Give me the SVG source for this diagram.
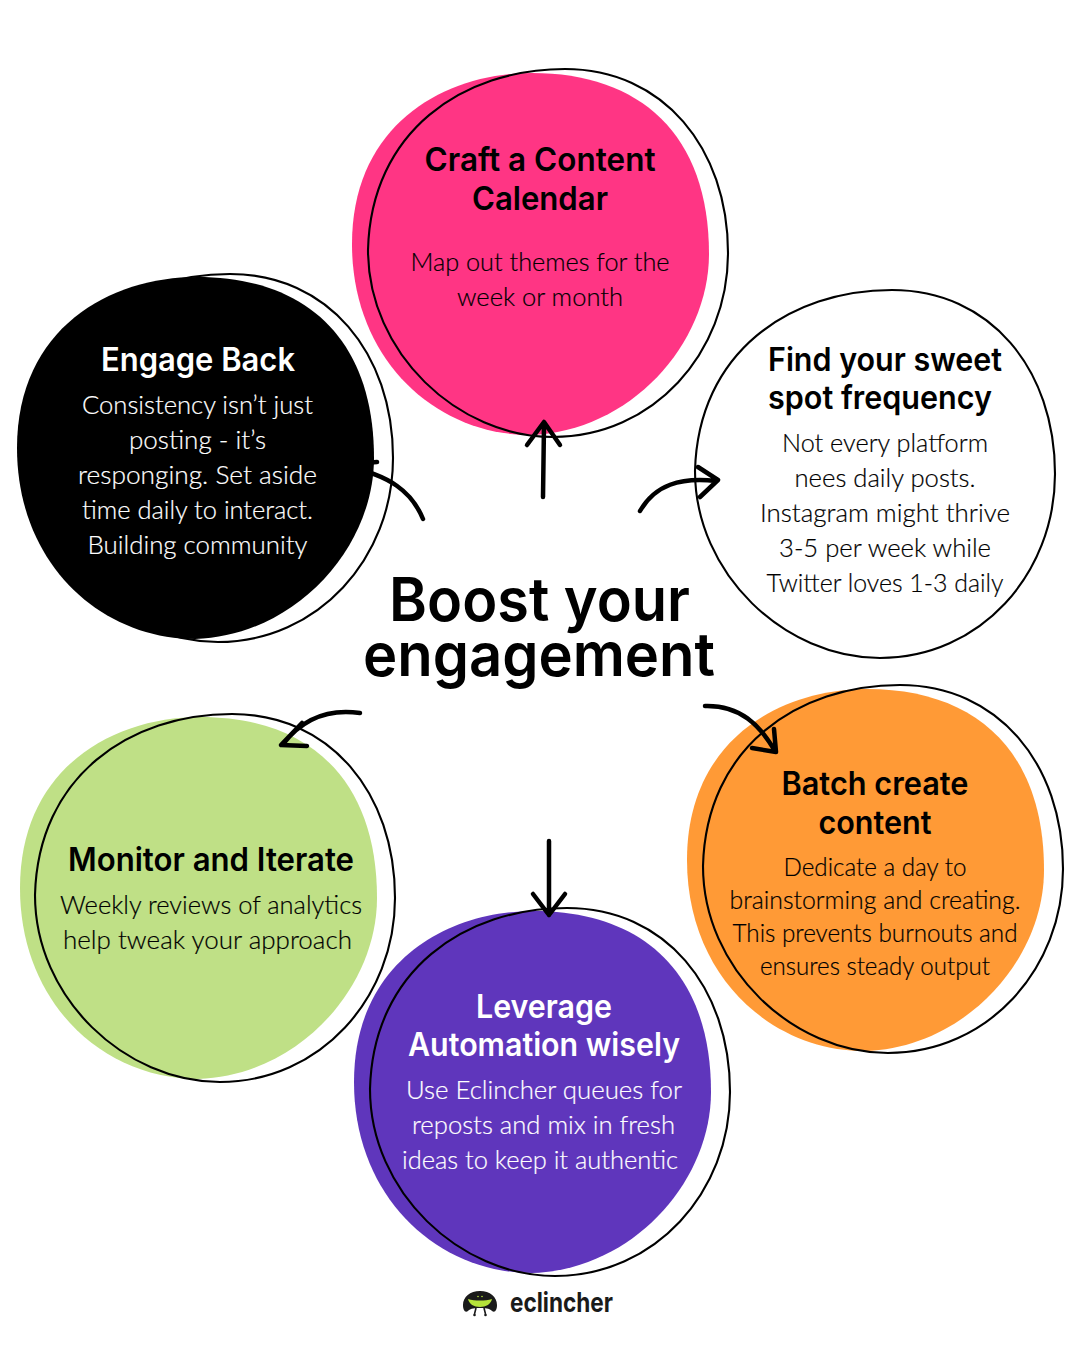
<svg xmlns="http://www.w3.org/2000/svg" width="1080" height="1350" viewBox="0 0 1080 1350">
<style>
text{text-anchor:middle;font-family:"Lato","Liberation Sans",sans-serif;fill:#000}
.h{font-size:32px;font-family:"Inter","Liberation Sans",sans-serif;font-weight:600}
.b{font-size:26px;font-weight:300;stroke:#000;stroke-width:.2}
.s{font-size:24.5px;font-weight:300;stroke:#000;stroke-width:.2}
text.w{fill:#fff;stroke:#fff}
text.h.w{stroke:none}
.o{fill:none;stroke:#000;stroke-width:2.1}
.a{fill:none;stroke:#000;stroke-width:4.5;stroke-linecap:round;stroke-linejoin:round}
.t{font-size:60px;font-weight:600;font-family:"Inter","Liberation Sans",sans-serif}
</style>
<defs>
<path id="blob" d="M-178,-10C-178,-130-85,-181 2,-181C110,-181 179,-120 179,0C179,90 100,178 0,181C-95,181-178,105-178,-10Z"/>
<path id="ring" d="M-180,-3C-177,-122-85,-184 17,-184C115,-184 180,-105 180,0C180,100 105,184 5,184C-90,184-180,100-180,-3Z"/>
</defs>
<rect width="1080" height="1350" fill="#fff"/>
<g id="node-calendar">
<use href="#blob" x="530" y="254" fill="#FF3584"/><use href="#ring" x="548" y="253" class="o"/>
<text x="540" y="170.500" class="h" textLength="231" lengthAdjust="spacingAndGlyphs">Craft a Content</text>
<text x="540" y="209.500" class="h" textLength="136" lengthAdjust="spacingAndGlyphs">Calendar</text>
<text x="540" y="271" class="b" textLength="259" lengthAdjust="spacingAndGlyphs">Map out themes for the</text>
<text x="540" y="306" class="b" textLength="166" lengthAdjust="spacingAndGlyphs">week or month</text>
</g>
<g id="node-frequency">
<use href="#ring" x="875" y="474" class="o"/>
<text x="885" y="370.500" class="h" textLength="234" lengthAdjust="spacingAndGlyphs">Find your sweet</text>
<text x="880" y="408.500" class="h" textLength="224" lengthAdjust="spacingAndGlyphs">spot frequency</text>
<text x="885" y="452" class="b" textLength="206" lengthAdjust="spacingAndGlyphs">Not every platform</text>
<text x="885" y="487" class="b" textLength="181" lengthAdjust="spacingAndGlyphs">nees daily posts.</text>
<text x="885" y="522" class="b" textLength="250" lengthAdjust="spacingAndGlyphs">Instagram might thrive</text>
<text x="885" y="557" class="b" textLength="212" lengthAdjust="spacingAndGlyphs">3-5 per week while</text>
<text x="885" y="592" class="b" textLength="237" lengthAdjust="spacingAndGlyphs">Twitter loves 1-3 daily</text>
</g>
<g id="node-batch">
<use href="#blob" x="865" y="870" fill="#FF9A36"/><use href="#ring" x="883" y="869" class="o"/>
<text x="875" y="794.500" class="h" textLength="187" lengthAdjust="spacingAndGlyphs">Batch create</text>
<text x="875" y="833.500" class="h" textLength="113" lengthAdjust="spacingAndGlyphs">content</text>
<text x="875" y="876" class="s" textLength="183" lengthAdjust="spacingAndGlyphs">Dedicate a day to</text>
<text x="875" y="909" class="s" textLength="291" lengthAdjust="spacingAndGlyphs">brainstorming and creating.</text>
<text x="875" y="942" class="s" textLength="285" lengthAdjust="spacingAndGlyphs">This prevents burnouts and</text>
<text x="875" y="975" class="s" textLength="230" lengthAdjust="spacingAndGlyphs">ensures steady output</text>
</g>
<g id="node-monitor">
<use href="#blob" x="198" y="898" fill="#BFE086"/><use href="#ring" x="215" y="898" class="o"/>
<text x="211" y="870.500" class="h" textLength="286" lengthAdjust="spacingAndGlyphs">Monitor and Iterate</text>
<text x="211" y="914" class="b" textLength="302" lengthAdjust="spacingAndGlyphs">Weekly reviews of analytics</text>
<text x="207.500" y="949" class="b" textLength="289" lengthAdjust="spacingAndGlyphs">help tweak your approach</text>
</g>
<g id="node-automation">
<use href="#blob" x="532" y="1092" fill="#5F36BC"/><use href="#ring" x="550" y="1092" class="o"/>
<text x="544" y="1017.500" class="h w" textLength="136" lengthAdjust="spacingAndGlyphs">Leverage</text>
<text x="544" y="1055.500" class="h w" textLength="272" lengthAdjust="spacingAndGlyphs">Automation wisely</text>
<text x="544" y="1099" class="b w" textLength="276" lengthAdjust="spacingAndGlyphs">Use Eclincher queues for</text>
<text x="543.500" y="1134" class="b w" textLength="263" lengthAdjust="spacingAndGlyphs">reposts and mix in fresh</text>
<text x="540" y="1169" class="b w" textLength="276" lengthAdjust="spacingAndGlyphs">ideas to keep it authentic</text>
</g>
<g id="connectors">
<path class="a" d="M543,497L544,424M527,445L544,422L560,445"/>
<path class="a" d="M640,511C655,485 680,477 716,481M698,467L718,480L700,497"/>
<path class="a" d="M705,706C740,705 760,725 775,751M774,729L776,752L752,748"/>
<path class="a" d="M549,841L549,915M533,894L549,915L565,894"/>
<path class="a" d="M360,713C325,708 300,722 283,744M302,723L281,745L307,746"/>
<path class="a" d="M423,519C412,492 390,475 345,466M377,462L340,465L358,495"/>
</g>
<g id="node-engage">
<use href="#blob" x="195" y="458" fill="#000"/><use href="#ring" x="213" y="458" class="o"/>
<text x="198" y="370.500" class="h w" textLength="194" lengthAdjust="spacingAndGlyphs">Engage Back</text>
<text x="197.500" y="414" class="b w" textLength="231" lengthAdjust="spacingAndGlyphs">Consistency isn’t just</text>
<text x="197.500" y="449" class="b w" textLength="137" lengthAdjust="spacingAndGlyphs">posting - it’s</text>
<text x="197.500" y="484" class="b w" textLength="239" lengthAdjust="spacingAndGlyphs">responging. Set aside</text>
<text x="197.500" y="519" class="b w" textLength="231" lengthAdjust="spacingAndGlyphs">time daily to interact.</text>
<text x="197.500" y="554" class="b w" textLength="220" lengthAdjust="spacingAndGlyphs">Building community</text>
</g>
<g id="title">
<text x="539.500" y="621" class="t" textLength="301" lengthAdjust="spacingAndGlyphs">Boost your</text>
<text x="539" y="676" class="t" textLength="352" lengthAdjust="spacingAndGlyphs">engagement</text>
</g>
<g id="logo">
<path d="M463,1305C463,1297 470,1291 480,1291C490,1291 497,1297 497,1305C497,1310 495,1313 492,1311C490,1309 488,1308 480,1308C472,1308 470,1309 468,1311C465,1313 463,1310 463,1305Z" fill="#1a1a1a"/>
<path d="M468,1299C475,1301 485,1301 492,1299C491,1304 486,1307 480,1307C474,1307 469,1304 468,1299Z" fill="#B5E33A"/>
<circle cx="478" cy="1296.500" r=".8" fill="#B5E33A"/><circle cx="482" cy="1296.500" r=".8" fill="#B5E33A"/>
<path d="M476,1308L474.500,1314M484,1308L485.500,1314" stroke="#1a1a1a" stroke-width="1.6" fill="none"/>
<circle cx="474.500" cy="1315" r="1.3" fill="#1a1a1a"/><circle cx="485.500" cy="1315" r="1.3" fill="#1a1a1a"/>
<text x="561.500" y="1312" font-size="27" font-weight="700" style="font-family:'Inter','Liberation Sans',sans-serif;fill:#1a1a1a" textLength="103" lengthAdjust="spacingAndGlyphs">eclincher</text>
</g>
</svg>
